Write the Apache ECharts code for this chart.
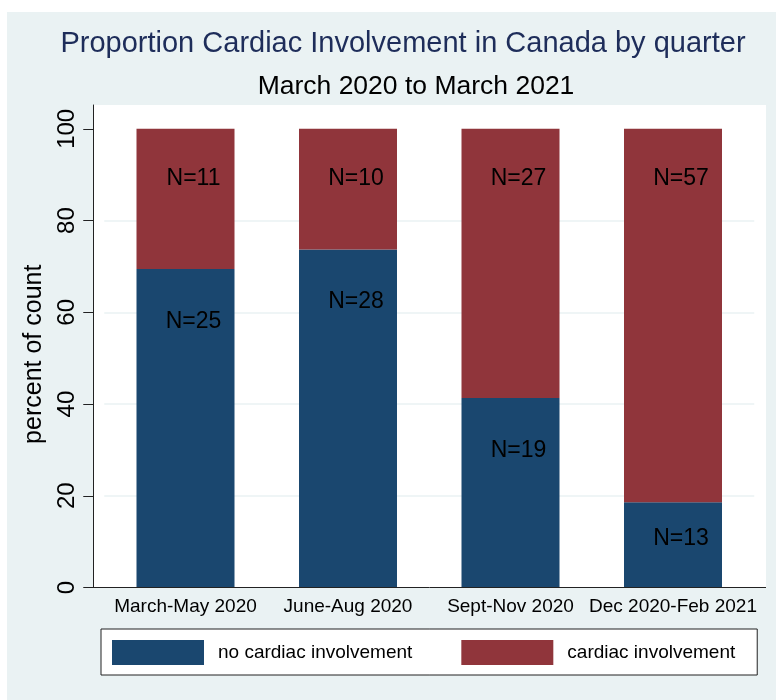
<!DOCTYPE html>
<html>
<head>
<meta charset="utf-8">
<script src="https://cdn.jsdelivr.net/npm/echarts@6/dist/echarts.min.js"></script>
<style>
  html, body { margin: 0; padding: 0; background: #fff; }
  #chart { width: 776px; height: 700px; }
</style>
</head>
<body>
<div id="chart"></div>
<script>
const quarters = ['March-May 2020', 'June-Aug 2020', 'Sept-Nov 2020', 'Dec 2020-Feb 2021'];
const noCardiacN = [25, 28, 19, 13];
const cardiacN = [11, 10, 27, 57];
const yTicks = [0, 20, 40, 60, 80, 100];

const navy = '#1a476f';
const maroon = '#90353b';
const bluishGray = '#eaf2f3';

// percent of count within each quarter
const totals = quarters.map((q, i) => noCardiacN[i] + cardiacN[i]);
const noCardiacPct = noCardiacN.map((n, i) => n / totals[i] * 100);
const cardiacPct = cardiacN.map((n, i) => n / totals[i] * 100);

const pxPerUnit = 482.5 / 105.2;

// Stata puts the bar label a bit inside the top of each segment
const segData = (pcts, counts, depth) => pcts.map((p, i) => {
    const segPx = p * pxPerUnit;
    const dy = Math.min(depth, segPx * 0.43) - 17;
    return {
        value: p,
        label: { offset: [8, dy], formatter: 'N=' + counts[i] }
    };
});

const barLabel = {
    show: true,
    position: 'insideTop',
    color: '#000',
    fontSize: 23,
    fontFamily: 'Liberation Sans'
};

const chart = echarts.init(document.getElementById('chart'));

const option = {
    animation: false,
    backgroundColor: '#fff',
    textStyle: { fontFamily: 'Liberation Sans' },
    graphic: [
        {
            type: 'rect', z: -10, silent: true,
            shape: { x: 7, y: 12, width: 769, height: 688 },
            style: { fill: bluishGray }
        },
        {
            type: 'rect', z: -9, silent: true,
            shape: { x: 93, y: 105, width: 673, height: 482.5 },
            style: { fill: '#fff' }
        },
        {
            type: 'line', z: 50, silent: true,
            shape: { x1: 93, y1: 587.5, x2: 766, y2: 587.5 },
            style: { stroke: '#222', lineWidth: 1 }
        }
    ],
    title: [
        {
            text: 'Proportion Cardiac Involvement in Canada by quarter',
            left: 398, top: 24, textAlign: 'center',
            textStyle: { color: '#1e2d5a', fontSize: 29, fontWeight: 'normal', fontFamily: 'Liberation Sans' }
        },
        {
            text: 'March 2020 to March 2021',
            left: 411, top: 68, textAlign: 'center',
            textStyle: { color: '#000', fontSize: 26.5, fontWeight: 'normal', fontFamily: 'Liberation Sans' }
        }
    ],
    legend: {
        left: 101, top: 629,
        padding: [11, 22, 10, 11],
        itemGap: 49,
        itemWidth: 92, itemHeight: 25,
        icon: 'rect',
        selectedMode: false,
        backgroundColor: '#fff',
        borderColor: '#222',
        borderWidth: 1,
        borderRadius: 0,
        textStyle: { color: '#000', fontSize: 19, fontFamily: 'Liberation Sans', padding: [0, 0, 0, 9] },
        data: ['no cardiac involvement', 'cardiac involvement']
    },
    grid: { left: 104.25, right: 21.75, top: 105, bottom: 112.5, containLabel: false },
    xAxis: {
        type: 'category',
        data: quarters,
        axisLine: { show: false },
        axisTick: { show: false },
        axisLabel: { color: '#000', fontSize: 19, margin: 10, interval: 0 }
    },
    yAxis: {
        type: 'value',
        min: 0, max: 105.2, interval: 20,
        offset: 11,
        name: 'percent of count',
        nameLocation: 'middle',
        nameGap: 47,
        nameTextStyle: { color: '#000', fontSize: 25, padding: [0, 16, 0, 0] },
        axisLine: { show: true, lineStyle: { color: '#222', width: 1 } },
        axisTick: { show: true, length: 10, lineStyle: { color: '#222' }, customValues: yTicks },
        axisLabel: { color: '#000', fontSize: 24, rotate: 90, margin: 14, customValues: yTicks },
        splitLine: { show: true, showMaxLine: false, lineStyle: { color: bluishGray, width: 1.5 } }
    },
    series: [
        {
            name: 'no cardiac involvement',
            type: 'bar', stack: 'q', barWidth: 98,
            itemStyle: { color: navy },
            label: barLabel,
            data: segData(noCardiacPct, noCardiacN, 53)
        },
        {
            name: 'cardiac involvement',
            type: 'bar', stack: 'q', barWidth: 98,
            itemStyle: { color: maroon },
            label: barLabel,
            data: segData(cardiacPct, cardiacN, 50)
        }
    ]
};

chart.setOption(option);
</script>
</body>
</html>
